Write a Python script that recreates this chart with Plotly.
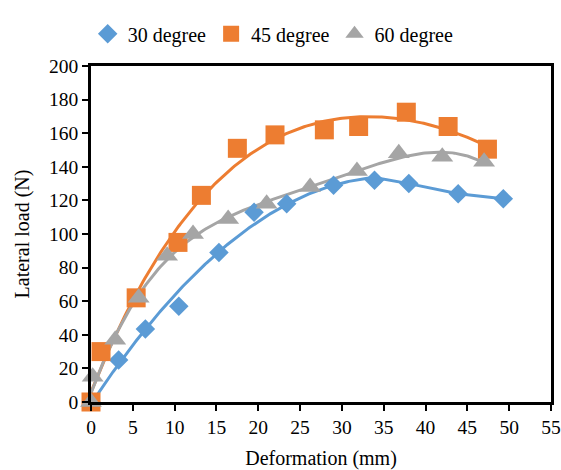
import numpy as np
import plotly.graph_objects as go

# ---- data ----
x30 = [0, 3.3, 6.5, 10.5, 15.3, 19.5, 23.4, 29.0, 33.9, 38.0, 43.9, 49.3]
y30 = [0, 25, 43.5, 57, 89, 113, 118, 129, 132, 130, 124, 121]

x45 = [0, 1.2, 5.4, 10.4, 13.2, 17.5, 22.0, 27.9, 32.0, 37.7, 42.7, 47.4]
y45 = [0, 30, 62, 95, 123, 151, 159, 162, 164, 172.5, 164, 150.5]

x60 = [0, 0.2, 2.9, 5.7, 9.1, 12.2, 16.4, 21.0, 26.2, 31.8, 36.8, 42.0, 47.0]
y60 = [0, 15, 37, 62, 87, 100, 109, 118, 128, 137.5, 148, 146, 143]

names = ["30 degree", "45 degree", "60 degree"]
colors = ["#5B9BD5", "#ED7D31", "#A5A5A5"]
symbols = ["diamond", "square", "triangle-up"]
sizes = [15, 19, 19]

xt = list(range(0, 56, 5))
yt = list(range(0, 201, 20))

FONT = "Liberation Serif"

fig = go.Figure()


def fit_curve(xs, ys, deg):
    xs = np.asarray(xs, float)
    ys = np.asarray(ys, float)
    p = np.polyfit(xs, ys, deg)
    xx = np.linspace(xs.min(), xs.max(), 200)
    return xx, np.polyval(p, xx)


# 30 degree: smooth trend up to the peak, then straight segments
ipk = int(np.argmax(y30))
xa, ya = fit_curve(x30[: ipk + 1], y30[: ipk + 1], 2)
lx30 = list(xa) + x30[ipk + 1:]
ly30 = list(ya) + y30[ipk + 1:]

lx45, ly45 = fit_curve(x45, y45, 4)
lx60, ly60 = fit_curve(x60, y60, 4)

lines = [(lx30, ly30), (lx45, ly45), (lx60, ly60)]
pts = [(x30, y30), (x45, y45), (x60, y60)]

for i in range(3):
    fig.add_trace(go.Scatter(
        x=lines[i][0], y=lines[i][1], mode="lines",
        line=dict(color=colors[i], width=3), showlegend=False,
        hoverinfo="skip", cliponaxis=False))
for i in range(3):
    fig.add_trace(go.Scatter(
        x=pts[i][0], y=pts[i][1], mode="markers", name=names[i],
        marker=dict(symbol=symbols[i], size=sizes[i], color=colors[i]),
        cliponaxis=False))

fig.update_layout(
    width=561, height=470,
    margin=dict(l=91, r=10, t=66, b=68, autoexpand=False),
    paper_bgcolor="white", plot_bgcolor="white",
    font=dict(family=FONT, size=20, color="black"),
    legend=dict(orientation="h", x=0.487, xanchor="center", xref="container",
                y=0.928, yanchor="middle", yref="container",
                font=dict(family=FONT, size=20), itemwidth=30,
                tracegroupgap=0, bgcolor="rgba(0,0,0,0)"),
    xaxis=dict(range=[0, 55], tickmode="array", tickvals=xt,
               ticktext=[str(v) for v in xt], automargin=False,
               tickfont=dict(family=FONT, size=19.5),
               showgrid=False, zeroline=False, showline=True,
               linecolor="black", linewidth=2.5, mirror=True,
               ticks="outside", ticklen=6, tickwidth=1.5, tickcolor="black",
               title=dict(text="Deformation (mm)",
                          font=dict(family=FONT, size=20))),
    yaxis=dict(range=[0, 200], tickmode="array", tickvals=yt,
               ticktext=[str(v) for v in yt], automargin=False,
               tickfont=dict(family=FONT, size=19.5),
               showgrid=False, zeroline=False, showline=True,
               linecolor="black", linewidth=2.5, mirror=True,
               ticks="outside", ticklen=6, tickwidth=1.5, tickcolor="black",
               title=dict(text="Lateral load (N)",
                          font=dict(family=FONT, size=20))),
)

# remove the browser's default 8px page margin so the figure fills the window
fig.write_html(
    "out.html",
    config={"displayModeBar": False},
    post_script="document.body.style.margin='0';document.body.style.overflow='hidden';",
)
